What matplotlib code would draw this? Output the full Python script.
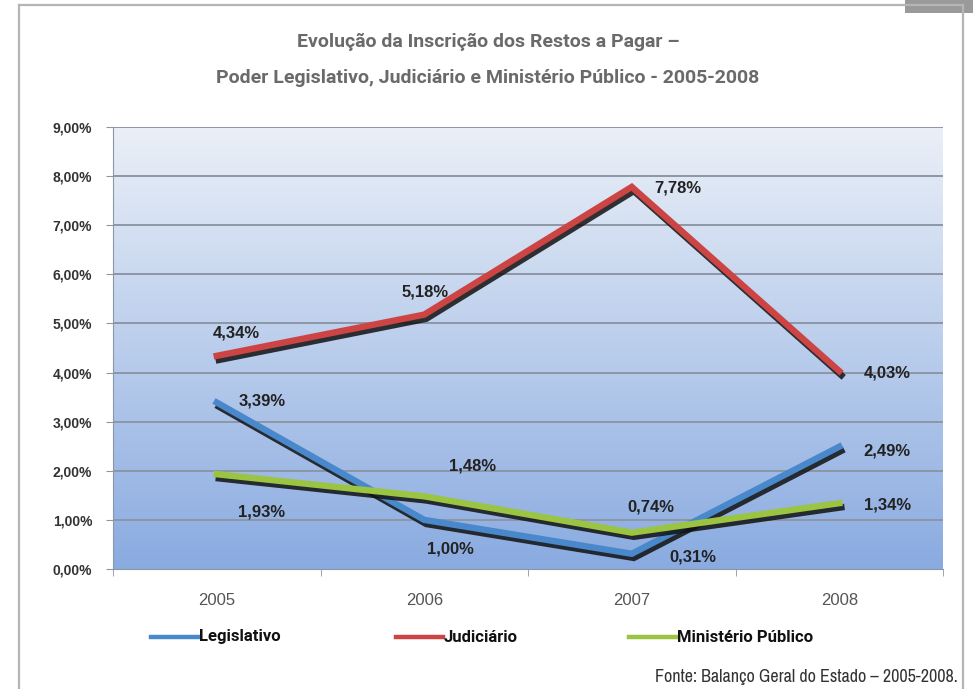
import matplotlib
matplotlib.use("Agg")
import matplotlib.pyplot as plt
import matplotlib.patheffects as pe
from matplotlib.lines import Line2D
from matplotlib.patches import Rectangle
from matplotlib import font_manager
from matplotlib.font_manager import FontProperties
import numpy as np

years = ["2005", "2006", "2007", "2008"]
legislativo = [3.39, 1.00, 0.31, 2.49]
judiciario = [4.34, 5.18, 7.78, 4.03]
ministerio = [1.93, 1.48, 0.74, 1.34]
series_names = ["Legislativo", "Judiciário", "Ministério Público"]
yticks = [0, 1, 2, 3, 4, 5, 6, 7, 8, 9]

title_lines = ["Evolução da Inscrição dos Restos a Pagar –",
               "Poder Legislativo, Judiciário e Ministério Público - 2005-2008"]
source = "Fonte: Balanço Geral do Estado – 2005-2008."

# label offsets in pixels (dx, dy), one per point
label_offsets = {
    "Legislativo": [(45, 2), (26, -29), (61, -3), (48, -4)],
    "Judiciário": [(20, 23), (1, 23), (46, -1), (48, -2)],
    "Ministério Público": [(45, -38), (48, 30), (19, 26), (48, -2)],
}
colors = {"Legislativo": "#4a88cc", "Judiciário": "#cc4444", "Ministério Público": "#9cc443"}
legend_x = {"Legislativo": 151, "Judiciário": 396, "Ministério Público": 629}


def narrow_font():
    # regular narrow/condensed face for the source note
    for f in font_manager.fontManager.ttflist:
        if ("Narrow" in f.name or "Condensed" in f.name) and f.style == "normal" \
                and f.weight in (400, "normal", "regular"):
            return FontProperties(fname=f.fname)
    return FontProperties(family="DejaVu Sans", stretch="condensed")


cond_r = narrow_font()
title_fp = FontProperties(family=["Roboto", "DejaVu Sans"], weight="bold")
legend_fp = FontProperties(family=["Roboto", "DejaVu Sans"], weight="bold")

plt.rcParams["font.family"] = ["Liberation Sans", "DejaVu Sans"]

W, H = 973, 689
fig = plt.figure(figsize=(W / 100, H / 100), dpi=100)
fig.patch.set_facecolor("white")

# outer frame
fig.add_artist(Line2D([19 / W, 963 / W], [1 - 5 / H, 1 - 5 / H], color="#b5b5b5", lw=1.6))
fig.add_artist(Line2D([19 / W, 19 / W], [0, 1 - 5 / H], color="#b5b5b5", lw=1.6))
fig.add_artist(Line2D([963 / W, 963 / W], [0, 1 - 5 / H], color="#b5b5b5", lw=1.6))
fig.add_artist(Rectangle((905 / W, 1 - 13 / H), 68 / W, 13 / H, color="#9a9a9a", lw=0))

for i, t in enumerate(title_lines):
    fig.text(488 / W, 1 - (42 + 36 * i) / H, t, ha="center", va="center",
             fontproperties=title_fp, fontsize=14, color="#6a6a6a")

ax = fig.add_axes([113 / W, 120 / H, 830 / W, 442 / H])
ax.set_xlim(-0.5, 3.5)
ax.set_ylim(0, 9)

# gradient background
grad = np.linspace(0, 1, 256).reshape(-1, 1)
top = np.array([0.92, 0.94, 0.97])
bot = np.array([0.54, 0.67, 0.88])
img = top * (1 - grad[..., None]) + bot * grad[..., None]
ax.imshow(img.reshape(256, 1, 3), extent=(-0.5, 3.5, 0, 9), aspect="auto", zorder=0)

for y in yticks[1:]:
    ax.axhline(y, color="#8c96a6", lw=1.4, zorder=1)

x = np.arange(len(years))
for name, vals in zip(series_names, [legislativo, judiciario, ministerio]):
    ax.plot(x, vals, color=colors[name], lw=4.6, solid_joinstyle="miter", zorder=3,
            path_effects=[pe.SimpleLineShadow(offset=(1.5, -3), shadow_color="#111111", alpha=0.85),
                          pe.Normal()])

for name, vals in zip(series_names, [legislativo, judiciario, ministerio]):
    for xi, v, (dx, dy) in zip(x, vals, label_offsets[name]):
        ax.annotate(f"{v:.2f}%".replace(".", ","), (xi, v), xytext=(dx, dy),
                    textcoords="offset pixels", ha="center", va="center",
                    fontsize=12, fontweight="bold", color="#222222", zorder=5)

ax.set_yticks(yticks)
ax.set_yticklabels([f"{v:.2f}%".replace(".", ",") for v in yticks],
                   fontweight="bold", fontsize=10, color="#333333")
ax.set_xticks(x)
ax.set_xticklabels(years, fontsize=12, color="#555555")
ax.set_xticks(np.arange(-0.5, 4.0, 1.0), minor=True)
ax.tick_params(axis="x", which="major", length=0, pad=17)
ax.tick_params(axis="x", which="minor", length=5, color="#8c96a6")
ax.tick_params(axis="y", length=5, color="#8c96a6", pad=10)
for s in ["top", "right"]:
    ax.spines[s].set_visible(False)
ax.spines["left"].set_color("#8c96a6")
ax.spines["bottom"].set_color("#8c96a6")

# legend, laid out by hand
ly = 1 - 637 / H
for name in series_names:
    x0 = legend_x[name]
    fig.add_artist(Line2D([x0 / W, (x0 + 47) / W], [ly, ly], color=colors[name], lw=3.2))
    fig.text((x0 + 48) / W, ly, name, ha="left", va="center", fontproperties=legend_fp,
             fontsize=12, color="#111111")

fig.text(958 / W, 1 - 677 / H, source, ha="right", va="center", fontproperties=cond_r,
         fontsize=13, color="#333333")

fig.savefig("out.png", dpi=100)
